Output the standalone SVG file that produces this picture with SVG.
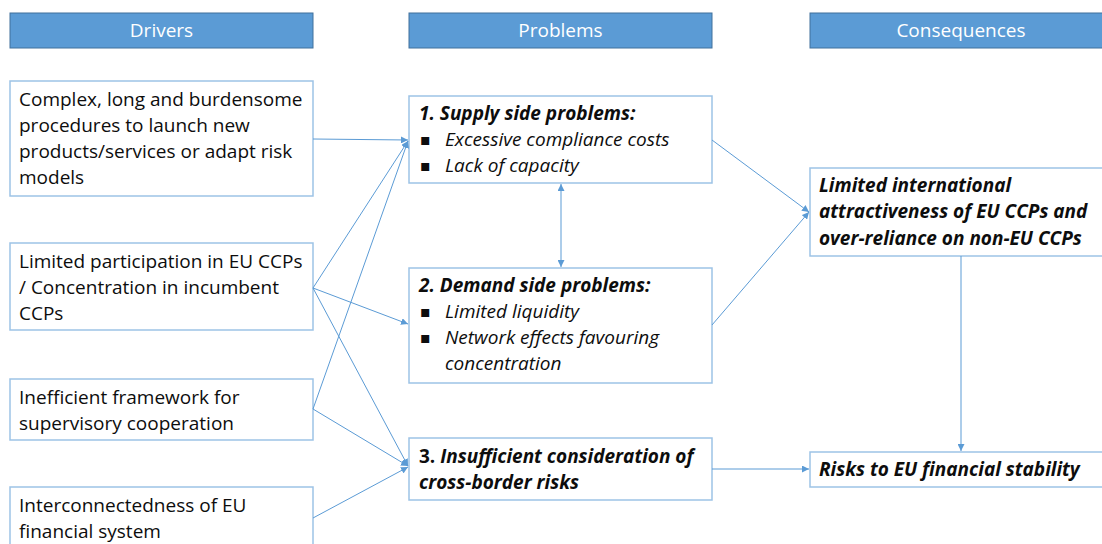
<svg xmlns="http://www.w3.org/2000/svg" width="1102" height="544" viewBox="0 0 1102 544">
<defs>
<style>
.hdr{fill:#5b9bd5;stroke:#41719c;stroke-width:1}
.hdrt{fill:#ffffff;font-family:"Open Sans",sans-serif;font-size:19px;text-anchor:middle}
.box{fill:#ffffff;stroke:#9dc3e6;stroke-width:1.5}
.t{fill:#0d0d0d;font-family:"Open Sans",sans-serif;font-size:19px}
.bl{fill:#0d0d0d;font-family:"DejaVu Sans",sans-serif;font-size:16px}
.bi{font-weight:bold;font-style:italic}
.i{font-style:italic}
.b{font-weight:bold}
.c{fill:none;stroke:#5b9bd5;stroke-width:1}
</style>
<marker id="ah" viewBox="0 0 10 10" refX="10" refY="5" markerWidth="7" markerHeight="7" orient="auto-start-reverse" markerUnits="userSpaceOnUse">
<path d="M0,0 L10,5 L0,10 z" fill="#5b9bd5"/>
</marker>
</defs>
<rect width="1102" height="544" fill="#ffffff"/>
<g id="hdr-drivers"><rect class="hdr" x="10" y="13" width="303" height="35"/><text class="hdrt" x="161.5" y="37">Drivers</text></g>
<g id="hdr-problems"><rect class="hdr" x="409" y="13" width="303" height="35"/><text class="hdrt" x="560.5" y="37">Problems</text></g>
<g id="hdr-consequences"><rect class="hdr" x="810" y="13" width="303" height="35"/><text class="hdrt" x="961" y="37">Consequences</text></g>

<g id="d1"><rect class="box" x="10" y="81" width="303" height="115"/>
<text class="t"><tspan x="19" y="106">Complex, long and burdensome</tspan><tspan x="19" y="132">procedures to launch new</tspan><tspan x="19" y="158">products/services or adapt risk</tspan><tspan x="19" y="184">models</tspan></text></g>
<g id="d2"><rect class="box" x="10" y="243" width="303" height="87"/>
<text class="t"><tspan x="19" y="268">Limited participation in EU CCPs</tspan><tspan x="19" y="294">/ Concentration in incumbent</tspan><tspan x="19" y="320">CCPs</tspan></text></g>
<g id="d3"><rect class="box" x="10" y="379" width="303" height="61"/>
<text class="t"><tspan x="19" y="404">Inefficient framework for</tspan><tspan x="19" y="430">supervisory cooperation</tspan></text></g>
<g id="d4"><rect class="box" x="10" y="487" width="303" height="70"/>
<text class="t"><tspan x="19" y="512">Interconnectedness of EU</tspan><tspan x="19" y="538">financial system</tspan></text></g>

<g id="p1"><rect class="box" x="409" y="96" width="303" height="87"/>
<text class="t bi" x="419" y="120">1. Supply side problems:</text>
<text class="bl" x="420" y="145">▪</text><text class="t i" x="445" y="146">Excessive compliance costs</text>
<text class="bl" x="420" y="171">▪</text><text class="t i" x="445" y="172">Lack of capacity</text></g>
<g id="p2"><rect class="box" x="409" y="268" width="303" height="115"/>
<text class="t bi" x="419" y="292">2. Demand side problems:</text>
<text class="bl" x="420" y="317">▪</text><text class="t i" x="445" y="318">Limited liquidity</text>
<text class="bl" x="420" y="343">▪</text><text class="t i"><tspan x="445" y="344">Network effects favouring</tspan><tspan x="445" y="370">concentration</tspan></text></g>
<g id="p3"><rect class="box" x="409" y="438" width="303" height="62"/>
<text class="t b"><tspan x="419" y="463">3. </tspan><tspan class="i">Insufficient consideration of</tspan><tspan x="419" y="489" class="i">cross-border risks</tspan></text></g>

<g id="c1"><rect class="box" x="810" y="168" width="303" height="88"/>
<text class="t bi"><tspan x="819" y="192">Limited international</tspan><tspan x="819" y="218">attractiveness of EU CCPs and</tspan><tspan x="819" y="245">over-reliance on non-EU CCPs</tspan></text></g>
<g id="c2"><rect class="box" x="810" y="452" width="303" height="35"/>
<text class="t bi" x="819" y="476">Risks to EU financial stability</text></g>

<g id="connectors">
<line class="c" x1="313" y1="139" x2="408" y2="140" marker-end="url(#ah)"/>
<line class="c" x1="313" y1="288" x2="408" y2="141" marker-end="url(#ah)"/>
<line class="c" x1="313" y1="288" x2="408" y2="324" marker-end="url(#ah)"/>
<line class="c" x1="313" y1="288" x2="408" y2="466" marker-end="url(#ah)"/>
<line class="c" x1="313" y1="409" x2="408" y2="141" marker-end="url(#ah)"/>
<line class="c" x1="313" y1="409" x2="408" y2="466" marker-end="url(#ah)"/>
<line class="c" x1="313" y1="518" x2="408" y2="467" marker-end="url(#ah)"/>
<line class="c" x1="561" y1="184" x2="561" y2="267" marker-start="url(#ah)" marker-end="url(#ah)"/>
<line class="c" x1="712" y1="140" x2="809" y2="212" marker-end="url(#ah)"/>
<line class="c" x1="712" y1="325" x2="809" y2="212" marker-end="url(#ah)"/>
<line class="c" x1="961" y1="256" x2="961" y2="451" marker-end="url(#ah)"/>
<line class="c" x1="712" y1="469" x2="809" y2="469" marker-end="url(#ah)"/>
</g>
</svg>
